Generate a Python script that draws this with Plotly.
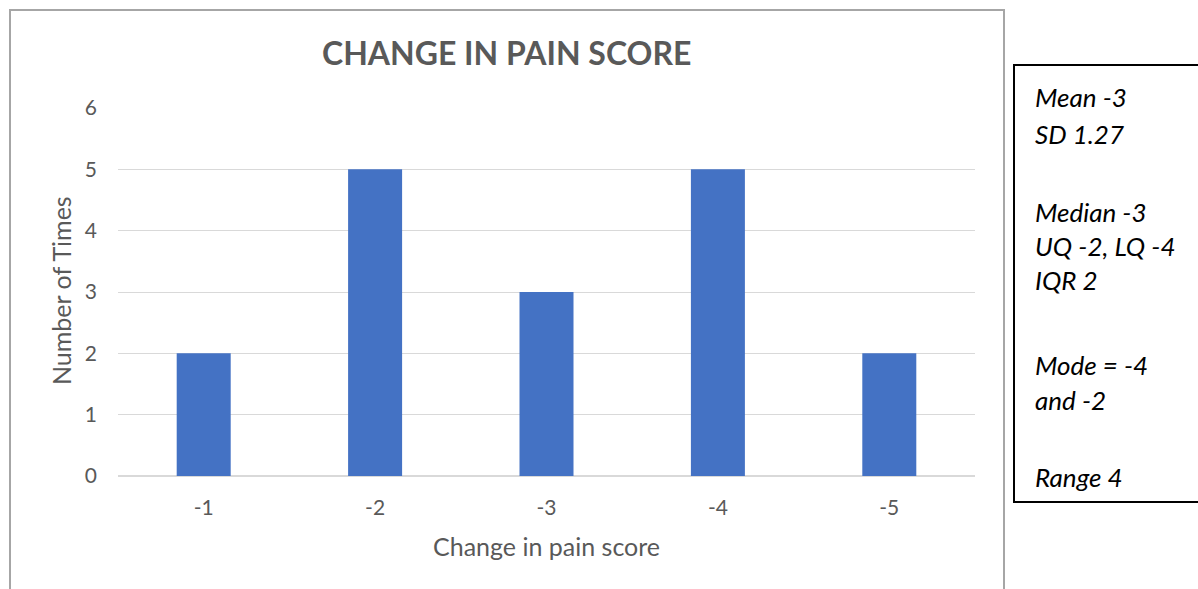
import plotly.graph_objects as go

categories = ["-1", "-2", "-3", "-4", "-5"]
counts = [2, 5, 3, 5, 2]
y_ticks = [0, 1, 2, 3, 4, 5, 6]

title_text = "CHANGE IN PAIN SCORE"
x_title = "Change in pain score"
y_title = "Number of Times"
stats_lines = ["Mean -3", "SD 1.27", "Median -3", "UQ -2, LQ -4", "IQR 2",
               "Mode = -4", "and -2", "Range 4"]
stats_y_px = [97, 134, 212, 246, 280, 365, 400, 477]

W, H = 1198, 589
FONT = "Lato, Carlito, Calibri, sans-serif"
GREY = "#595959"

def px(x):
    return x / W

def py(y):
    return 1 - y / H

fig = go.Figure()
fig.add_trace(go.Bar(x=categories, y=counts, marker=dict(color="#4472C4", line=dict(width=0)),
                     hoverinfo="x+y"))

fig.update_layout(
    width=W, height=H,
    margin=dict(l=0, r=0, t=0, b=0, pad=0, autoexpand=False),
    paper_bgcolor="white", plot_bgcolor="white",
    showlegend=False,
    bargap=0.685,
    font=dict(family=FONT, color=GREY),
    xaxis=dict(domain=[px(118), px(975)], type="category",
               showgrid=False, showline=False, zeroline=False, ticks="",
               tickfont=dict(size=21, color=GREY), ticklabelstandoff=17, automargin=False),
    yaxis=dict(domain=[py(476), py(108)], range=[0, 6], tickvals=y_ticks,
               showgrid=True, gridcolor="#D9D9D9", gridwidth=1.3,
               zeroline=True, zerolinecolor="#D9D9D9", zerolinewidth=1.6,
               showline=False, ticks="",
               tickfont=dict(size=21, color=GREY), ticklabelstandoff=20, automargin=False),
)

annotations = [
    dict(text=f"<b>{title_text}</b>", x=px(507), y=py(53), xref="paper", yref="paper",
         showarrow=False, xanchor="center", yanchor="middle",
         font=dict(family=FONT, size=32, color=GREY)),
    dict(text=x_title, x=px(546), y=py(546), xref="paper", yref="paper",
         showarrow=False, xanchor="center", yanchor="middle",
         font=dict(family=FONT, size=25, color=GREY)),
    dict(text=y_title, x=px(61), y=py(291), xref="paper", yref="paper",
         showarrow=False, xanchor="center", yanchor="middle", textangle=-90,
         font=dict(family=FONT, size=25, color=GREY)),
]
for line, yy in zip(stats_lines, stats_y_px):
    annotations.append(dict(text=f"<i>{line}</i>", x=px(1033), y=py(yy), xref="paper", yref="paper",
                            showarrow=False, xanchor="left", yanchor="middle",
                            font=dict(family=FONT, size=26, color="black")))
fig.update_layout(annotations=annotations)

shapes = [
    dict(type="rect", xref="paper", yref="paper", x0=px(10), x1=px(1004), y0=py(620), y1=py(10),
         line=dict(color="#A6A6A6", width=2), fillcolor="rgba(0,0,0,0)", layer="below"),
    dict(type="rect", xref="paper", yref="paper", x0=px(1014), x1=px(1210), y0=py(502), y1=py(65),
         line=dict(color="black", width=2), fillcolor="rgba(0,0,0,0)"),
]
fig.update_layout(shapes=shapes)

fig.write_html("out.html")
